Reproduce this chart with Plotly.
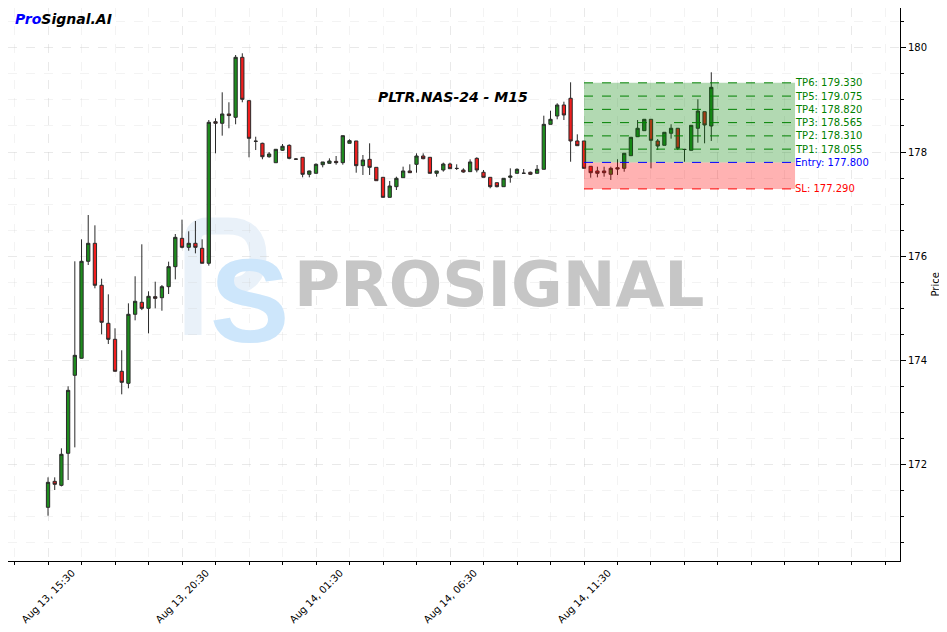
import pandas as pd
import plotly.graph_objects as go

# ---------------- data ----------------
start_time = "2024-08-13 15:30"
bar_freq = "15min"

opens = [171.167, 171.667, 171.590, 172.206, 173.706, 174.033, 175.898, 176.244, 175.437, 174.706,
         174.398, 173.783, 173.552, 174.879, 175.110, 174.994, 175.218, 175.198, 175.410, 175.795,
         176.340, 176.167, 176.244, 176.148, 175.860, 178.583, 178.552, 178.731, 178.667, 179.821,
         178.987, 178.210, 178.167, 177.909, 177.794, 178.033, 178.128, 177.865, 177.898, 177.571,
         177.590, 177.756, 177.782, 177.820, 177.795, 178.167, 178.212, 177.737, 177.859, 177.705,
         177.513, 177.128, 177.333, 177.506, 177.635, 177.763, 177.923, 177.898, 177.590, 177.654,
         177.769, 177.686, 177.654, 177.622, 177.878, 177.610, 177.513, 177.410, 177.333, 177.513,
         177.590, 177.592, 177.610, 177.590, 177.667, 178.532, 178.692, 178.904, 179.033, 178.212,
         178.212, 177.725, 177.635, 177.635, 177.571, 177.698, 177.686, 177.929, 178.294, 178.410,
         178.629, 178.212, 178.129, 178.360, 178.456, 178.052, 178.033, 178.456, 178.775, 178.500]
highs = [171.744, 171.744, 172.302, 173.494, 175.898, 176.321, 176.788, 176.590, 175.563, 175.263,
         174.610, 174.187, 175.090, 175.610, 176.225, 175.321, 175.506, 175.442, 175.891, 176.423,
         176.699, 176.475, 176.673, 176.321, 178.615, 178.648, 179.148, 178.956, 179.865, 179.898,
         178.987, 178.294, 178.179, 178.000, 178.052, 178.154, 178.147, 177.880, 177.898, 177.641,
         177.782, 177.808, 177.878, 177.923, 178.314, 178.244, 178.212, 177.942, 178.167, 177.705,
         177.513, 177.442, 177.525, 177.718, 177.763, 177.974, 177.974, 177.898, 177.635, 177.795,
         177.795, 177.763, 177.686, 177.859, 177.898, 177.654, 177.513, 177.410, 177.494, 177.686,
         177.686, 177.673, 177.622, 177.750, 178.698, 178.794, 178.937, 178.967, 179.340, 178.340,
         178.212, 177.725, 177.717, 177.717, 177.717, 177.860, 177.975, 178.283, 178.615, 178.629,
         178.629, 178.250, 178.379, 178.533, 178.456, 178.060, 178.513, 179.013, 178.775, 179.533]
lows = [171.006, 171.500, 171.570, 171.692, 172.320, 174.030, 175.827, 175.379, 174.494, 174.308,
        173.780, 173.340, 173.456, 174.763, 174.960, 174.513, 174.994, 174.948, 175.269, 175.551,
        176.148, 176.102, 176.051, 175.860, 175.814, 177.975, 178.314, 178.456, 178.533, 178.956,
        177.898, 178.038, 177.860, 177.890, 177.794, 178.020, 177.860, 177.850, 177.513, 177.513,
        177.590, 177.705, 177.780, 177.756, 177.756, 178.167, 177.602, 177.558, 177.558, 177.448,
        177.128, 177.128, 177.269, 177.506, 177.600, 177.602, 177.860, 177.590, 177.525, 177.622,
        177.679, 177.654, 177.602, 177.622, 177.609, 177.513, 177.302, 177.320, 177.333, 177.410,
        177.590, 177.577, 177.558, 177.590, 177.667, 178.532, 178.629, 178.615, 177.813, 178.120,
        177.686, 177.506, 177.513, 177.525, 177.462, 177.558, 177.621, 177.929, 178.290, 178.410,
        177.686, 178.038, 178.129, 178.256, 178.038, 177.813, 178.033, 178.179, 178.167, 178.212]
closes = [171.648, 171.610, 172.187, 173.417, 174.090, 175.898, 176.244, 175.437, 174.725, 174.398,
          173.783, 173.571, 174.879, 175.129, 174.994, 175.225, 175.186, 175.410, 175.795, 176.359,
          176.167, 176.244, 176.167, 175.860, 178.571, 178.552, 178.731, 178.700, 179.821, 179.013,
          178.263, 178.205, 177.909, 177.962, 178.052, 178.110, 177.878, 177.862, 177.571, 177.635,
          177.763, 177.808, 177.827, 177.795, 178.314, 178.218, 177.737, 177.846, 177.705, 177.448,
          177.128, 177.346, 177.494, 177.635, 177.602, 177.923, 177.871, 177.590, 177.635, 177.769,
          177.679, 177.683, 177.615, 177.808, 177.654, 177.513, 177.333, 177.333, 177.494, 177.538,
          177.667, 177.590, 177.571, 177.667, 178.532, 178.629, 178.904, 178.712, 178.212, 178.121,
          177.686, 177.602, 177.590, 177.602, 177.686, 177.673, 177.975, 178.283, 178.456, 178.629,
          178.225, 178.115, 178.379, 178.456, 178.071, 178.048, 178.513, 178.788, 178.519, 179.244]

tp_names = ["TP1", "TP2", "TP3", "TP4", "TP5", "TP6"]
tp_levels = [178.055, 178.310, 178.565, 178.820, 179.075, 179.330]
entry_level = 177.800
sl_level = 177.290
signal_start = "2024-08-14 11:30"
signal_end = "2024-08-14 19:22:30"

tick_times = ["2024-08-13 15:30", "2024-08-13 20:30", "2024-08-14 01:30", "2024-08-14 06:30",
              "2024-08-14 11:30", "2024-08-14 16:30", "2024-08-14 21:30"]
tick_labels = ["Aug 13, 15:30", "Aug 13, 20:30", "Aug 14, 01:30", "Aug 14, 06:30",
               "Aug 14, 11:30", "", ""]
y_ticks = [172, 174, 176, 178, 180]

title_text = "PLTR.NAS-24 - M15"

# ---------------- figure ----------------
FIG_W, FIG_H = 939, 624          # page adds an 8px body margin
M_L, M_R, M_T, M_B = 0, 47, 0, 71
PW, PH = FIG_W - M_L - M_R, FIG_H - M_T - M_B


def px2paper(px, py):
    """screen pixel (including 8px page margin) -> paper coords"""
    return (px - 8 - M_L) / PW, 1 - (py - 8 - M_T) / PH


times = pd.date_range(start_time, periods=len(opens), freq=bar_freq)
t0 = pd.Timestamp(start_time)
x_range = [t0 - pd.Timedelta(minutes=89.6), t0 + pd.Timedelta(minutes=1907.5)]

fig = go.Figure()
fig.add_trace(go.Candlestick(
    x=times, open=opens, high=highs, low=lows, close=closes,
    increasing=dict(line=dict(color="#2a2a2a", width=1), fillcolor="#1e8c1e"),
    decreasing=dict(line=dict(color="#2a2a2a", width=1), fillcolor="#f01e1e"),
    whiskerwidth=0, hoverinfo="skip", showlegend=False,
))

grid_style = dict(gridcolor="rgba(200,200,200,0.22)", griddash="dash", gridwidth=1)

shapes = []

# faint "P" outline of the watermark logo (drawn below the candles)
p_pts = [(193, 335), (193, 240), (193, 226), (208, 226), (228, 226), (258, 226), (258, 256),
         (258, 286), (230, 286)]
pp = [px2paper(*p) for p in p_pts]
p_path = (f"M {pp[0][0]},{pp[0][1]} L {pp[1][0]},{pp[1][1]} Q {pp[2][0]},{pp[2][1]} {pp[3][0]},{pp[3][1]} "
          f"L {pp[4][0]},{pp[4][1]} Q {pp[5][0]},{pp[5][1]} {pp[6][0]},{pp[6][1]} "
          f"Q {pp[7][0]},{pp[7][1]} {pp[8][0]},{pp[8][1]}")
shapes.append(dict(type="path", xref="paper", yref="paper", path=p_path,
                   line=dict(color="rgba(228,238,248,0.8)", width=17), layer="below"))

shapes += [
    dict(type="rect", xref="x", yref="y", x0=signal_start, x1=signal_end, y0=entry_level, y1=tp_levels[-1],
         fillcolor="rgba(0,128,0,0.3)", line=dict(width=0), layer="above"),
    dict(type="rect", xref="x", yref="y", x0=signal_start, x1=signal_end, y0=sl_level, y1=entry_level,
         fillcolor="rgba(255,0,0,0.3)", line=dict(width=0), layer="above"),
]
annotations = []
label_font = dict(family="DejaVu Sans", size=10)
for name, lvl in zip(tp_names, tp_levels):
    shapes.append(dict(type="line", xref="x", yref="y", x0=signal_start, x1=signal_end, y0=lvl, y1=lvl,
                       line=dict(color="#008000", width=1, dash="dash"), layer="above"))
    annotations.append(dict(x=signal_end, y=lvl, xref="x", yref="y", text=f"{name}: {lvl:.3f}",
                            showarrow=False, xanchor="left", yanchor="middle", xshift=-2,
                            font=dict(color="#008000", **label_font)))
shapes.append(dict(type="line", xref="x", yref="y", x0=signal_start, x1=signal_end, y0=entry_level, y1=entry_level,
                   line=dict(color="#0000ff", width=1, dash="dash"), layer="above"))
annotations.append(dict(x=signal_end, y=entry_level, xref="x", yref="y", text=f"Entry: {entry_level:.3f}",
                        showarrow=False, xanchor="left", yanchor="middle", xshift=-2,
                        font=dict(color="#0000ff", **label_font)))
shapes.append(dict(type="line", xref="x", yref="y", x0=signal_start, x1=signal_end, y0=sl_level, y1=sl_level,
                   line=dict(color="#ff0000", width=1, dash="dash"), layer="above"))
annotations.append(dict(x=signal_end, y=sl_level, xref="x", yref="y", text=f"SL: {sl_level:.3f}",
                        showarrow=False, xanchor="left", yanchor="middle", xshift=-2,
                        font=dict(color="#ff0000", **label_font)))

# x tick labels (rotated, centred on the tick like the reference)
for tv, tl in zip(tick_times, tick_labels):
    if tl:
        annotations.append(dict(x=tv, y=-0.064, xref="x", yref="paper", text=tl, showarrow=False,
                                textangle=-45, xanchor="center", yanchor="middle",
                                font=dict(family="DejaVu Sans", size=10, color="black")))

# y-axis title
annotations.append(dict(x=1.0, y=0.5, xref="paper", yref="paper", text="Price", showarrow=False,
                        textangle=-90, xanchor="center", yanchor="middle", xshift=35,
                        font=dict(family="DejaVu Sans", size=10, color="black")))

# watermark
annotations.append(dict(x=0.224, y=0.471, xref="paper", yref="paper", text="S", showarrow=False,
                        font=dict(family="Liberation Sans", size=119, weight="bold", color="#cde6fb")))
annotations.append(dict(x=0.5507, y=0.50, xref="paper", yref="paper", text="PROSIGNAL", showarrow=False,
                        font=dict(family="DejaVu Sans", size=63, weight="bold", color="#c6c6c6")))
# title & brand
annotations.append(dict(x=0.4994, y=0.839, xref="paper", yref="paper", text=f"<b><i>{title_text}</i></b>",
                        showarrow=False, xanchor="center", yanchor="middle",
                        font=dict(family="DejaVu Sans", size=14, color="black")))
annotations.append(dict(x=0.0055, y=0.980, xref="paper", yref="paper",
                        text="<b><i><span style='color:#0000ff'>Pro</span>Signal.AI</i></b>",
                        showarrow=False, xanchor="left", yanchor="middle",
                        font=dict(family="DejaVu Sans", size=14, color="black")))

fig.update_layout(
    width=FIG_W, height=FIG_H,
    margin=dict(l=M_L, r=M_R, t=M_T, b=M_B, autoexpand=False),
    paper_bgcolor="white", plot_bgcolor="white",
    showlegend=False,
    font=dict(family="DejaVu Sans", size=10, color="black"),
    shapes=shapes, annotations=annotations,
    xaxis=dict(
        type="date", range=x_range, rangeslider=dict(visible=False), automargin=False,
        tickmode="array", tickvals=tick_times, ticktext=[""] * len(tick_times), showticklabels=False,
        ticks="outside", ticklen=5, tickcolor="black",
        showline=True, linecolor="black", linewidth=1, mirror=True,
        showgrid=True, **grid_style,
        minor=dict(tickmode="linear", tick0=start_time, dtick=4500000, ticks="outside", ticklen=3,
                   tickcolor="black", showgrid=True, **grid_style),
    ),
    yaxis=dict(
        side="right", range=[170.135, 180.769], automargin=False,
        tickmode="array", tickvals=y_ticks, ticks="outside", ticklen=5, tickcolor="black",
        tickfont=dict(size=10),
        showline=True, linecolor="black", linewidth=1, mirror=True,
        showgrid=True, **grid_style, zeroline=False,
        minor=dict(tickmode="linear", tick0=170, dtick=0.5, ticks="outside", ticklen=3,
                   tickcolor="black", showgrid=True, **grid_style),
    ),
)

fig.write_html("out.html")
